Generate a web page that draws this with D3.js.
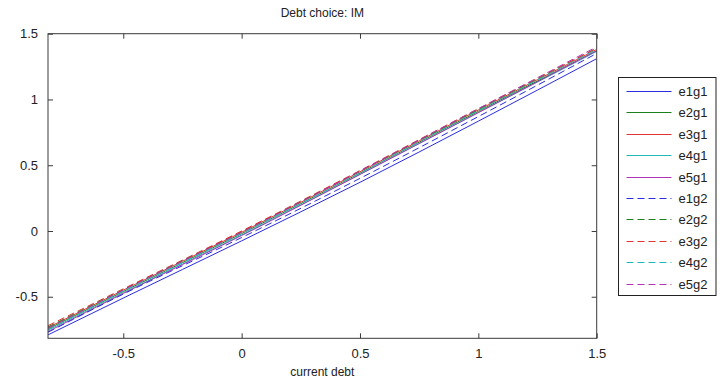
<!DOCTYPE html>
<html>
<head>
<meta charset="utf-8">
<script src="https://cdn.jsdelivr.net/npm/d3@7"></script>
<style>
  html, body { margin: 0; padding: 0; background: #fff; }
  svg { display: block; font-family: "Liberation Sans", Arial, sans-serif; }
</style>
</head>
<body>
<svg id="chart" width="725" height="383"></svg>
<script>
// Grid of current-debt values at which the policy is sampled
const debtGrid = [-0.818, -0.5, 0, 0.5, 1, 1.5];

// Debt choice for each state (e = endowment, g = government)
const e1g1 = [-0.79, -0.51, -0.075, 0.37, 0.835, 1.31];
const e2g1 = [-0.745, -0.46, -0.02, 0.44, 0.91, 1.37];
const e3g1 = [-0.735, -0.45, -0.01, 0.45, 0.92, 1.38];
const e4g1 = [-0.755, -0.47, -0.03, 0.43, 0.90, 1.365];
const e5g1 = [-0.765, -0.475, -0.035, 0.43, 0.90, 1.37];
const e1g2 = [-0.77, -0.48, -0.05, 0.40, 0.87, 1.35];
const e2g2 = [-0.73, -0.445, -0.005, 0.455, 0.925, 1.39];
const e3g2 = [-0.72, -0.44, 0.0, 0.46, 0.93, 1.39];
const e4g2 = [-0.75, -0.46, -0.02, 0.44, 0.915, 1.38];
const e5g2 = [-0.74, -0.45, -0.01, 0.455, 0.93, 1.40];

const seriesNames = ["e1g1", "e2g1", "e3g1", "e4g1", "e5g1", "e1g2", "e2g2", "e3g2", "e4g2", "e5g2"];
const seriesValues = [e1g1, e2g1, e3g1, e4g1, e5g1, e1g2, e2g2, e3g2, e4g2, e5g2];

const xTicks = [-0.5, 0, 0.5, 1, 1.5];
const yTicks = [-0.5, 0, 0.5, 1, 1.5];
const xTickLabels = ["-0.5", "0", "0.5", "1", "1.5"];
const yTickLabels = ["-0.5", "0", "0.5", "1", "1.5"];

const titleText = "Debt choice: IM";
const xLabelText = "current debt";

// Styling
const palette = ["#2b2be0", "#1c801c", "#e03434", "#22b8b8", "#b034b8"];
const dashPattern = "7,4";

const svg = d3.select("#chart");
const plot = { left: 48, top: 33.7, right: 596.7, bottom: 338.3 };

const x = d3.scaleLinear().domain([-0.818, 1.5]).range([plot.left, plot.right]);
const y = d3.scaleLinear().domain([-0.816, 1.5]).range([plot.bottom, plot.top]);

const series = seriesNames.map((name, i) => ({
  name,
  color: palette[i % 5],
  dashed: i >= 5,
  points: debtGrid.map((d, j) => [d, seriesValues[i][j]])
}));

const line = d3.line().curve(d3.curveMonotoneX).x(d => x(d[0])).y(d => y(d[1]));

// Clip the curves to the axes box
svg.append("clipPath").attr("id", "plotClip")
  .append("rect")
  .attr("x", plot.left).attr("y", plot.top)
  .attr("width", plot.right - plot.left).attr("height", plot.bottom - plot.top);

const lines = svg.append("g").attr("clip-path", "url(#plotClip)");
series.forEach(s => {
  lines.append("path")
    .datum(s.points)
    .attr("d", line)
    .attr("fill", "none")
    .attr("stroke", s.color)
    .attr("stroke-width", 1)
    .attr("stroke-dasharray", s.dashed ? dashPattern : null);
});

// Axes with inward ticks on all four sides
const axisColor = "#3a3a3a";
const tickLen = 5;
const axes = svg.append("g");

const bottomAxis = axes.append("g")
  .attr("transform", `translate(0,${plot.bottom})`)
  .call(d3.axisBottom(x).tickValues(xTicks).tickSizeInner(-tickLen).tickSizeOuter(0)
    .tickPadding(10).tickFormat((d, i) => xTickLabels[i]));
const topAxis = axes.append("g")
  .attr("transform", `translate(0,${plot.top})`)
  .call(d3.axisTop(x).tickValues(xTicks).tickSizeInner(-tickLen).tickSizeOuter(0).tickFormat(""));
const leftAxis = axes.append("g")
  .attr("transform", `translate(${plot.left},0)`)
  .call(d3.axisLeft(y).tickValues(yTicks).tickSizeInner(-tickLen).tickSizeOuter(0)
    .tickPadding(10).tickFormat((d, i) => yTickLabels[i]));
const rightAxis = axes.append("g")
  .attr("transform", `translate(${plot.right},0)`)
  .call(d3.axisRight(y).tickValues(yTicks).tickSizeInner(-tickLen).tickSizeOuter(0).tickFormat(""));

[bottomAxis, topAxis, leftAxis, rightAxis].forEach(g => {
  g.select(".domain").remove();
  g.selectAll(".tick line").attr("stroke", axisColor);
  g.selectAll(".tick text")
    .attr("fill", "#222")
    .style("font-family", "'Liberation Sans', Arial, sans-serif")
    .style("font-size", "13px");
});

axes.append("rect")
  .attr("x", plot.left).attr("y", plot.top)
  .attr("width", plot.right - plot.left).attr("height", plot.bottom - plot.top)
  .attr("fill", "none").attr("stroke", axisColor).attr("stroke-width", 1);

// Title and axis label
svg.append("text")
  .attr("x", (plot.left + plot.right) / 2).attr("y", 17)
  .attr("text-anchor", "middle")
  .attr("fill", "#222")
  .style("font-size", "12px")
  .text(titleText);

svg.append("text")
  .attr("x", (plot.left + plot.right) / 2).attr("y", 376)
  .attr("text-anchor", "middle")
  .attr("fill", "#222")
  .style("font-size", "12px")
  .text(xLabelText);

// Legend
const legend = { left: 618.5, top: 77.5, width: 97.5, height: 218, firstY: 91, step: 21.4 };
const lg = svg.append("g");
lg.append("rect")
  .attr("x", legend.left).attr("y", legend.top)
  .attr("width", legend.width).attr("height", legend.height)
  .attr("fill", "#fff").attr("stroke", "#222").attr("stroke-width", 1);

series.forEach((s, i) => {
  const yy = Math.round(legend.firstY + i * legend.step) + 0.5;
  lg.append("line")
    .attr("x1", legend.left + 8).attr("x2", legend.left + 53)
    .attr("y1", yy).attr("y2", yy)
    .attr("stroke", s.color).attr("stroke-width", 1)
    .attr("stroke-dasharray", s.dashed ? dashPattern : null);
  lg.append("text")
    .attr("x", legend.left + 60).attr("y", yy)
    .attr("dy", "0.35em")
    .attr("fill", "#222")
    .style("font-size", "13px")
    .text(s.name);
});
</script>
</body>
</html>
